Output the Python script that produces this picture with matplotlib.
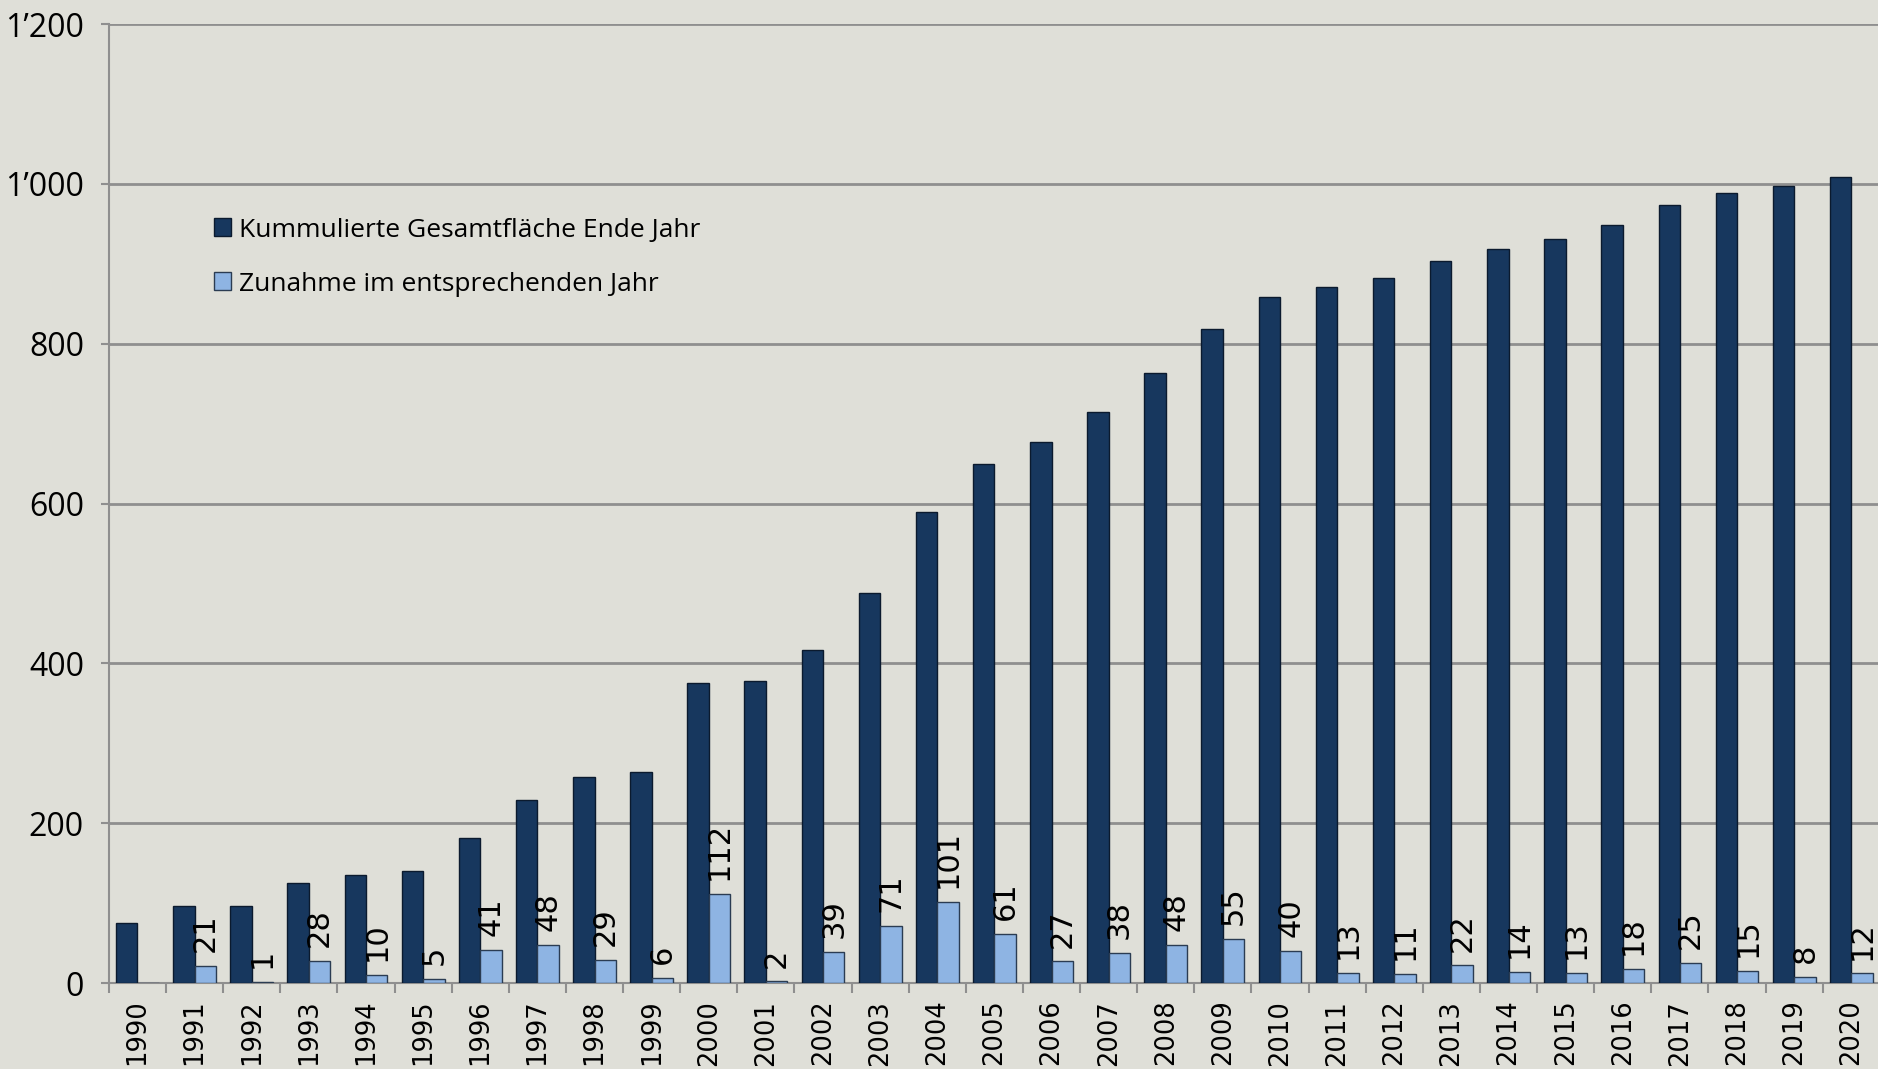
"""
Cumulative area per year with yearly increase, as grouped bars.
"""

import numpy as np
import matplotlib.pyplot as plt
from matplotlib.ticker import FuncFormatter, FixedLocator


years = list(range(1990, 2021))
cumulative = [75, 96, 97, 125, 135, 140, 181, 229, 258, 264, 376, 378, 417,
              488, 589, 650, 677, 715, 763, 818, 858, 871, 882, 904, 918,
              931, 949, 974, 989, 997, 1009]
increase = [None, 21, 1, 28, 10, 5, 41, 48, 29, 6, 112, 2, 39, 71, 101, 61,
            27, 38, 48, 55, 40, 13, 11, 22, 14, 13, 18, 25, 15, 8, 12]

label_cum = "Kummulierte Gesamtfläche Ende Jahr"
label_inc = "Zunahme im entsprechenden Jahr"

bg = '#dfdfd8'
dark = '#17375e'
light = '#8eb4e3'
grid = '#8f8f8f'

fig = plt.figure(figsize=(18.78, 10.69), dpi=100, facecolor=bg)
ax = fig.add_axes([0.058, 0.0804, 0.943, 0.8971], facecolor=bg)

x = np.arange(len(years))
w = 0.375
inc_vals = [v if v is not None else 0 for v in increase]

ax.bar(x - w / 2, cumulative, w, color=dark, edgecolor='#0b1a2e',
       linewidth=1.0, label=label_cum, zorder=3)
ax.bar(x + w / 2, inc_vals, w, color=light, edgecolor='#2b3c52',
       linewidth=1.0, label=label_inc, zorder=3)

# value labels above the yearly increase
for xi, v in zip(x, increase):
    if v is None:
        continue
    ax.annotate(str(v), (xi + w / 2, v), xytext=(0, 10),
                textcoords='offset points', rotation=90, ha='center',
                va='bottom', fontsize=22, family='DejaVu Sans', zorder=4)

ax.set_xlim(-0.5, len(years) - 0.5)
ax.set_ylim(0, 1200)
ax.set_yticks(range(0, 1201, 200))
ax.yaxis.set_major_formatter(
    FuncFormatter(lambda v, p: f"{int(v):,}".replace(',', '\u2019')))
ax.grid(axis='y', color=grid, linewidth=2, zorder=0)

ax.set_xticks(x)
ax.set_xticklabels([str(y) for y in years], rotation=90,
                   family='DejaVu Sans', fontsize=18.5)
ax.xaxis.set_minor_locator(FixedLocator(np.arange(-0.5, len(years), 1)))
ax.tick_params(axis='x', which='major', length=0, pad=12)
ax.tick_params(axis='x', which='minor', length=7.5, width=1.5, color=grid)
ax.tick_params(axis='y', length=6, width=1.5, color=grid, labelsize=23,
               pad=12)
for lab in ax.get_yticklabels():
    lab.set_family('Open Sans')

for side in ['top', 'right']:
    ax.spines[side].set_visible(False)
for side in ['left', 'bottom']:
    ax.spines[side].set_color(grid)
    ax.spines[side].set_linewidth(1.5)

ax.legend(loc='upper left', bbox_to_anchor=(0.046, 0.823), frameon=False,
          prop={'family': 'Open Sans', 'size': 19}, handlelength=0.65,
          handleheight=0.65, handletextpad=0.3, labelspacing=1.1)

fig.savefig('out.png', dpi=100, facecolor=bg)
